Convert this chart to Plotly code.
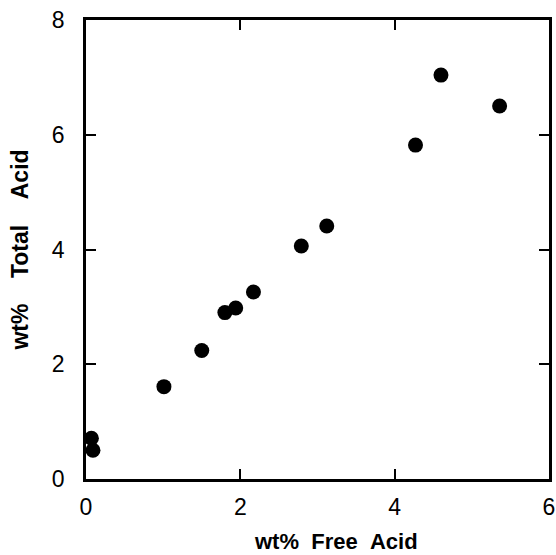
import plotly.graph_objects as go

free_acid = [0.07, 0.09, 1.01, 1.50, 1.80, 1.94, 2.17, 2.79, 3.12, 4.27, 4.60, 5.36]
total_acid = [0.71, 0.50, 1.61, 2.24, 2.90, 2.98, 3.26, 4.06, 4.41, 5.82, 7.04, 6.50]

x_ticks = [0, 2, 4, 6]
y_ticks = [0, 2, 4, 6, 8]

fig = go.Figure()
fig.add_trace(go.Scatter(
    x=free_acid, y=total_acid, mode="markers",
    marker=dict(color="black", size=15, symbol="circle"),
    showlegend=False,
    cliponaxis=False,
))

tickfont = dict(family="Liberation Sans Narrow, Arial Narrow, Liberation Sans, sans-serif", size=23, color="black")
xtitlefont = dict(family="Liberation Sans, Arial, sans-serif", size=22, color="black", weight="bold")
ytitlefont = dict(family="Liberation Sans, Arial, sans-serif", size=23, color="black", weight="bold")

nb = "\u00a0"
x_title = "wt%" + nb * 2 + "Free" + nb * 2 + "Acid"
y_title = "wt%" + nb * 4 + "Total" + nb * 4 + "Acid"

fig.update_layout(
    width=556, height=555,
    margin=dict(l=86, r=7, t=20, b=76),
    paper_bgcolor="white", plot_bgcolor="white",
    xaxis=dict(
        range=[0, 6], tickvals=x_ticks, ticktext=[str(v) for v in x_ticks],
        showgrid=False, zeroline=False, showline=True, linecolor="black", linewidth=2.5,
        mirror="ticks", ticks="inside", ticklen=10, tickwidth=2, tickcolor="black",
        tickfont=tickfont, automargin=False, ticklabelstandoff=6,
        ticklabeloverflow="allow",
    ),
    yaxis=dict(
        range=[0, 8], tickvals=y_ticks, ticktext=[str(v) for v in y_ticks],
        showgrid=False, zeroline=False, showline=True, linecolor="black", linewidth=2.5,
        mirror="ticks", ticks="inside", ticklen=10, tickwidth=2, tickcolor="black",
        tickfont=tickfont, automargin=False, ticklabelstandoff=14,
        ticklabeloverflow="allow",
        title=dict(text=y_title, font=ytitlefont, standoff=17),
    ),
    annotations=[dict(
        text=x_title, font=xtitlefont, showarrow=False,
        xref="paper", yref="paper", x=0.539, y=-0.137,
        xanchor="center", yanchor="middle",
    )],
)

fig.write_html("out.html", config={"displayModeBar": False},
               post_script="document.body.style.margin='0px';")
